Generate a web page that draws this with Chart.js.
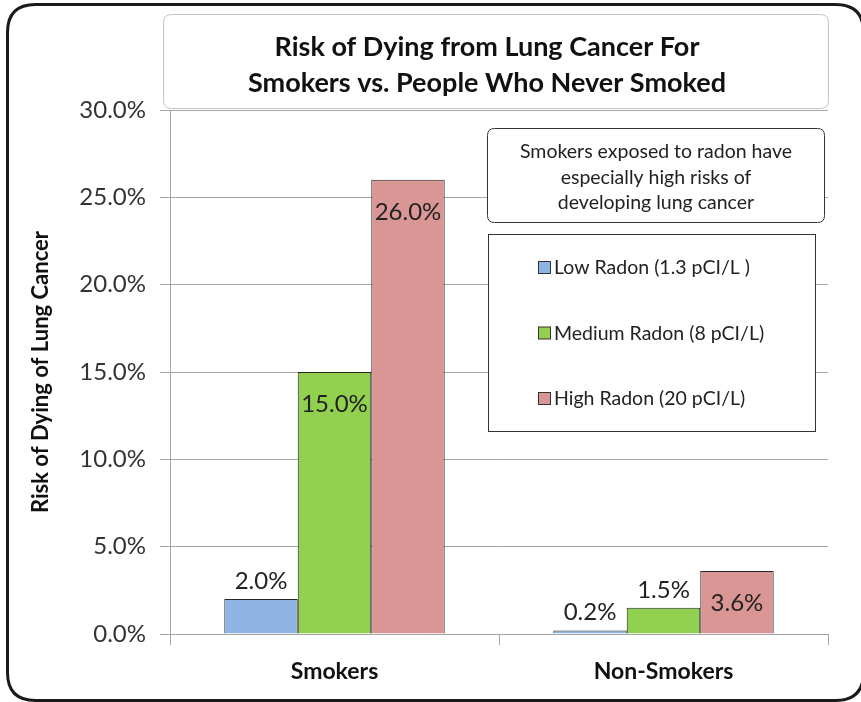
<!DOCTYPE html>
<html>
<head>
<meta charset="utf-8">
<script src="https://cdn.jsdelivr.net/npm/chart.js@4"></script>
<style>
  html, body { margin: 0; padding: 0; background: #fff; }
  #chart { display: block; }
</style>
</head>
<body>
<canvas id="chart" width="861" height="702"></canvas>
<script>
// values (percent)
const categories = ['Smokers', 'Non-Smokers'];
const seriesNames = ['Low Radon (1.3 pCI/L )', 'Medium Radon (8 pCI/L)', 'High Radon (20 pCI/L)'];
const lowRadon = [2.0, 0.2];
const mediumRadon = [15.0, 1.5];
const highRadon = [26.0, 3.6];
const seriesColors = ['#8EB4E3', '#92D050', '#D99694'];
const yMax = 30;
const yStep = 5;
const titleLines = ['Risk of Dying from Lung Cancer For', 'Smokers vs. People Who Never Smoked'];
const noteLines = ['Smokers exposed to radon have', 'especially high risks of', 'developing lung cancer'];
const yTitle = 'Risk of Dying of Lung Cancer';

const FONT = 'Lato, "Open Sans", sans-serif';

function roundRect(ctx, x, y, w, h, r) {
  ctx.beginPath();
  ctx.moveTo(x + r, y);
  ctx.lineTo(x + w - r, y);
  ctx.quadraticCurveTo(x + w, y, x + w, y + r);
  ctx.lineTo(x + w, y + h - r);
  ctx.quadraticCurveTo(x + w, y + h, x + w - r, y + h);
  ctx.lineTo(x + r, y + h);
  ctx.quadraticCurveTo(x, y + h, x, y + h - r);
  ctx.lineTo(x, y + r);
  ctx.quadraticCurveTo(x, y, x + r, y);
  ctx.closePath();
}

// frame, title box, note box and legend box
const decorations = {
  id: 'decorations',
  beforeDraw(chart) {
    const ctx = chart.ctx;
    ctx.save();
    ctx.fillStyle = '#fff';
    ctx.fillRect(0, 0, chart.width, chart.height);
    ctx.restore();
  },
  afterDraw(chart) {
    const ctx = chart.ctx;
    ctx.save();

    // title box
    roundRect(ctx, 163.5, 14.5, 665, 94, 8);
    ctx.fillStyle = '#fff';
    ctx.fill();
    ctx.strokeStyle = '#c4c4c4';
    ctx.lineWidth = 1;
    ctx.stroke();
    ctx.fillStyle = '#111';
    ctx.font = 'bold 27px ' + FONT;
    ctx.textAlign = 'center';
    ctx.textBaseline = 'middle';
    titleLines.forEach((t, i) => ctx.fillText(t, 487, 47 + i * 36));

    // note box
    roundRect(ctx, 487.5, 128.5, 337, 94, 7);
    ctx.fillStyle = '#fff';
    ctx.fill();
    ctx.strokeStyle = '#333';
    ctx.stroke();
    ctx.fillStyle = '#222';
    ctx.font = '19.5px ' + FONT;
    noteLines.forEach((t, i) => ctx.fillText(t, 656, 152 + i * 25.5));

    // legend box
    ctx.fillStyle = '#fff';
    ctx.fillRect(488.5, 234.5, 327, 197);
    ctx.strokeStyle = '#333';
    ctx.strokeRect(488.5, 234.5, 327, 197);
    ctx.textAlign = 'left';
    ctx.font = '19.5px ' + FONT;
    chart.data.datasets.forEach((ds, i) => {
      const y = 268 + i * 65.5;
      ctx.fillStyle = ds.backgroundColor;
      ctx.fillRect(538.5, y - 6.5, 12, 12);
      ctx.strokeStyle = '#333';
      ctx.strokeRect(538.5, y - 6.5, 12, 12);
      ctx.fillStyle = '#222';
      ctx.fillText(ds.label, 554, y);
    });

    // outer frame
    roundRect(ctx, 7.5, 4.5, 856, 696, 28);
    ctx.strokeStyle = '#1a1a1a';
    ctx.lineWidth = 3;
    ctx.stroke();
    ctx.restore();
  }
};

// value labels: inside the top of tall bars, above short ones
const valueLabels = {
  id: 'valueLabels',
  afterDatasetsDraw(chart) {
    const ctx = chart.ctx;
    ctx.save();
    ctx.font = '24px ' + FONT;
    ctx.fillStyle = '#222';
    ctx.textAlign = 'center';
    ctx.textBaseline = 'middle';
    chart.data.datasets.forEach((ds, di) => {
      chart.getDatasetMeta(di).data.forEach((bar, i) => {
        const h = bar.base - bar.y;
        const y = h > 50 ? bar.y + 32 : bar.y - 18;
        ctx.fillText(ds.data[i].toFixed(1) + '%', bar.x, y);
      });
    });
    ctx.restore();
  }
};

const data = {
  labels: categories,
  datasets: [lowRadon, mediumRadon, highRadon].map((vals, i) => ({
    label: seriesNames[i],
    data: vals,
    backgroundColor: seriesColors[i],
    borderColor: '#262626',
    borderWidth: 1,
    barPercentage: 1,
    categoryPercentage: 0.67
  }))
};

new Chart(document.getElementById('chart'), {
  type: 'bar',
  data: data,
  options: {
    responsive: false,
    animation: false,
    devicePixelRatio: 1,
    layout: { padding: { left: 0, top: 110, right: 33, bottom: 0 } },
    plugins: {
      legend: { display: false },
      title: { display: false },
      tooltip: { enabled: false }
    },
    scales: {
      x: {
        grid: { drawOnChartArea: false, drawTicks: true, tickLength: 11, color: '#a6a6a6' },
        border: { color: '#a6a6a6' },
        ticks: { color: '#111', font: { family: FONT, size: 23, weight: 'bold' }, padding: 13 },
        afterFit(scale) { scale.height = 68; }
      },
      y: {
        min: 0,
        max: yMax,
        ticks: {
          stepSize: yStep,
          color: '#333',
          font: { family: FONT, size: 24 },
          padding: 14,
          callback: v => v.toFixed(1) + '%'
        },
        grid: { color: '#a6a6a6', tickLength: 10 },
        border: { color: '#a6a6a6' },
        title: {
          display: true,
          text: yTitle,
          color: '#111',
          font: { family: FONT, size: 22, weight: 'bold' },
          padding: { top: 28, bottom: 0 }
        },
        afterFit(scale) { scale.width = 170; }
      }
    }
  },
  plugins: [decorations, valueLabels]
});
</script>
</body>
</html>
